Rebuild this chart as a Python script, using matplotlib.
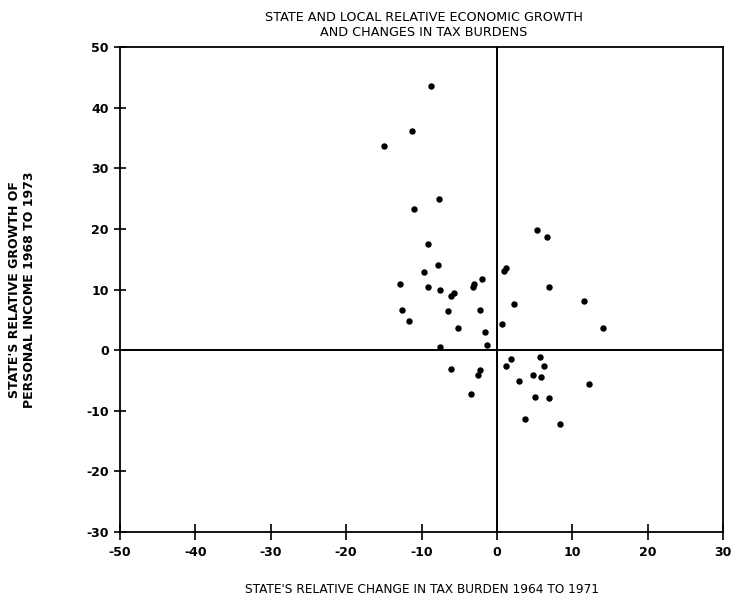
import matplotlib
matplotlib.use("Agg")
import matplotlib.pyplot as plt

plt.rcParams["axes.unicode_minus"] = False

# relative change in tax burden 1964-1971 (x) vs relative income growth (y)
tax_change = [-8.8, -11.2, -15.0, -7.65, -11.0, -9.2, 5.3, 6.6,
              -7.8, -9.7, -12.8, -9.2, -7.6, -6.1, -5.7, -3.2, -3.0,
              -2.0, 0.9, 1.2, 6.9, 11.6, 2.3, -12.6, -6.5, -2.2,
              -11.6, 14.0, 0.7, -5.2, -1.55, -7.5, -1.3, 5.7, 1.9,
              6.3, 1.2, -6.1, -2.3, -2.5, 4.8, 5.8, 2.9, 12.2,
              -3.4, 5.1, 6.9, 3.7, 8.3]
income_growth = [43.6, 36.2, 33.7, 24.9, 23.3, 17.5, 19.8, 18.7,
                 14.0, 12.9, 11.0, 10.5, 10.0, 9.0, 9.4, 10.5, 10.9,
                 11.7, 13.1, 13.5, 10.5, 8.2, 7.7, 6.7, 6.5, 6.7,
                 4.8, 3.6, 4.3, 3.7, 3.0, 0.6, 0.8, -1.15, -1.5,
                 -2.6, -2.6, -3.1, -3.3, -4.1, -4.1, -4.4, -5.1, -5.6,
                 -7.2, -7.7, -7.8, -11.4, -12.2]

x_ticks = [-50, -40, -30, -20, -10, 0, 10, 20, 30]
y_ticks = [-30, -20, -10, 0, 10, 20, 30, 40, 50]

fig = plt.figure(figsize=(7.35, 6.13), dpi=100)
ax = fig.add_axes([0.163, 0.132, 0.821, 0.791])

ax.scatter(tax_change, income_growth, s=13, color="black", zorder=3)
ax.axhline(0, color="black", lw=1.4)
ax.axvline(0, color="black", lw=1.4)

ax.set_xlim(-50, 30)
ax.set_ylim(-30, 50)
ax.set_xticks(x_ticks)
ax.set_yticks(y_ticks)
ax.tick_params(direction="inout", length=12, width=1.2, labelsize=9,
               pad=4)
ax.tick_params(axis="y", length=8)
for lbl in ax.get_xticklabels() + ax.get_yticklabels():
    lbl.set_fontweight("bold")
for sp in ax.spines.values():
    sp.set_linewidth(1.3)

fig.text(0.577, 0.972, "STATE AND LOCAL RELATIVE ECONOMIC GROWTH",
         ha="center", va="center", fontsize=9.2)
fig.text(0.577, 0.947, "AND CHANGES IN TAX BURDENS",
         ha="center", va="center", fontsize=9.2)
ax.set_xlabel("STATE'S RELATIVE CHANGE IN TAX BURDEN 1964 TO 1971",
              fontsize=8.7, labelpad=17)
fig.text(0.030, 0.527, "STATE'S RELATIVE GROWTH OF\nPERSONAL INCOME 1968 TO 1973",
         rotation=90, ha="center", va="center", fontsize=9,
         fontweight="bold", linespacing=1.15)

fig.savefig("out.png", dpi=100)
